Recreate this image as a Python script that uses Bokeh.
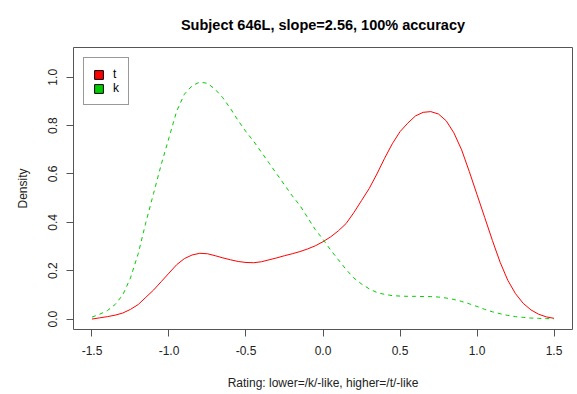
from bokeh.plotting import figure
from bokeh.models import FixedTicker, Legend, LegendItem, ColumnDataSource, Range1d
from bokeh.embed import file_html
from bokeh.resources import INLINE

# Rating grid (x) and density values
rating = [-1.50, -1.45, -1.40, -1.35, -1.30, -1.25, -1.20, -1.15, -1.10, -1.05,
          -1.00, -0.95, -0.90, -0.85, -0.80, -0.75, -0.70, -0.65, -0.60, -0.55,
          -0.50, -0.45, -0.40, -0.35, -0.30, -0.25, -0.20, -0.15, -0.10, -0.05,
          0.00, 0.05, 0.10, 0.15, 0.20, 0.25, 0.30, 0.35, 0.40, 0.45,
          0.50, 0.55, 0.60, 0.65, 0.70, 0.75, 0.80, 0.85, 0.90, 0.95,
          1.00, 1.05, 1.10, 1.15, 1.20, 1.25, 1.30, 1.35, 1.40, 1.45, 1.50]

density_t = [0.000, 0.005, 0.010, 0.016, 0.025, 0.040, 0.060, 0.090, 0.120, 0.155,
             0.190, 0.225, 0.250, 0.265, 0.272, 0.270, 0.262, 0.253, 0.245, 0.238,
             0.234, 0.233, 0.237, 0.245, 0.253, 0.262, 0.270, 0.279, 0.290, 0.303,
             0.320, 0.340, 0.365, 0.395, 0.440, 0.490, 0.540, 0.600, 0.665, 0.725,
             0.775, 0.810, 0.840, 0.855, 0.858, 0.848, 0.820, 0.770, 0.700, 0.610,
             0.515, 0.420, 0.325, 0.235, 0.160, 0.105, 0.065, 0.038, 0.020, 0.009, 0.003]

density_k = [0.008, 0.020, 0.035, 0.060, 0.100, 0.170, 0.270, 0.400, 0.520, 0.640,
             0.750, 0.860, 0.930, 0.965, 0.980, 0.975, 0.950, 0.915, 0.870, 0.820,
             0.775, 0.735, 0.690, 0.645, 0.600, 0.555, 0.510, 0.470, 0.420, 0.370,
             0.330, 0.285, 0.245, 0.205, 0.170, 0.145, 0.125, 0.110, 0.102, 0.097,
             0.095, 0.094, 0.094, 0.093, 0.093, 0.091, 0.087, 0.081, 0.073, 0.063,
             0.052, 0.040, 0.030, 0.022, 0.015, 0.010, 0.007, 0.004, 0.003, 0.002, 0.001]

x_ticks = [-1.5, -1.0, -0.5, 0.0, 0.5, 1.0, 1.5]
x_tick_labels = ["-1.5", "-1.0", "-0.5", "0.0", "0.5", "1.0", "1.5"]
y_ticks = [0.0, 0.2, 0.4, 0.6, 0.8, 1.0]
y_tick_labels = ["0.0", "0.2", "0.4", "0.6", "0.8", "1.0"]

series_names = ["t", "k"]
series_colors = ["#FF0000", "#00CD00"]
title_text = "Subject 646L, slope=2.56, 100% accuracy"

FONT = "Liberation Sans"

p = figure(width=577, height=394, output_backend="svg", toolbar_location=None,
           x_range=(-1.62, 1.62), y_range=(-0.0432, 1.1232),
           min_border_left=73, min_border_right=5, min_border_top=47,
           min_border_bottom=65, title=title_text)

p.title.align = "center"
p.title.vertical_align = "top"
p.title.standoff = 17
p.title.padding = 4
p.title.text_font = FONT
p.title.text_font_style = "bold"
p.title.text_font_size = "14.5px"
p.title.text_color = "#000000"

p.background_fill_color = "white"
p.border_fill_color = "white"
p.outline_line_color = "#555555"
p.outline_line_width = 1
p.xgrid.visible = False
p.ygrid.visible = False

src = ColumnDataSource(dict(x=rating, t=density_t, k=density_k))
p.line("x", "t", source=src, line_color=series_colors[0], line_width=1)
p.line("x", "k", source=src, line_color=series_colors[1], line_width=1,
       line_dash="4 4")

# legend swatches: filled squares drawn on a range that keeps them out of the frame
p.extra_y_ranges = {"swatch": Range1d(5, 6)}
r_t = p.quad(left="x", right="x", bottom="t", top="t", source=src,
             y_range_name="swatch", fill_color=series_colors[0], line_color="black")
r_k = p.quad(left="x", right="x", bottom="k", top="k", source=src,
             y_range_name="swatch", fill_color=series_colors[1], line_color="black")
legend = Legend(items=[LegendItem(label=series_names[0], renderers=[r_t]),
                       LegendItem(label=series_names[1], renderers=[r_k])],
                location="top_left", margin=10, padding=9, spacing=0,
                glyph_width=11, glyph_height=11, label_height=10, label_width=4,
                label_standoff=9, label_text_font=FONT,
                label_text_font_size="12px", label_text_color="#000000",
                border_line_color="#333333", border_line_width=1,
                background_fill_color="white", background_fill_alpha=1.0)
p.add_layout(legend)

for ax in (p.xaxis[0], p.yaxis[0]):
    ax.axis_line_color = None
    ax.major_tick_line_color = "#555555"
    ax.major_tick_out = 7
    ax.major_tick_in = 0
    ax.minor_tick_line_color = None
    ax.major_label_text_font = FONT
    ax.major_label_text_font_size = "12px"
    ax.major_label_text_color = "#222222"
    ax.axis_label_text_font = FONT
    ax.axis_label_text_font_size = "12px"
    ax.axis_label_text_font_style = "normal"
    ax.axis_label_text_color = "#222222"

p.xaxis[0].ticker = FixedTicker(ticks=x_ticks)
p.xaxis[0].major_label_overrides = {t: l for t, l in zip(x_ticks, x_tick_labels)}
p.xaxis[0].axis_label = "Rating: lower=/k/-like, higher=/t/-like"
p.xaxis[0].major_label_standoff = 9
p.xaxis[0].axis_label_standoff = 18

p.yaxis[0].ticker = FixedTicker(ticks=y_ticks)
p.yaxis[0].major_label_overrides = {t: l for t, l in zip(y_ticks, y_tick_labels)}
p.yaxis[0].major_label_orientation = "vertical"
p.yaxis[0].axis_label = "Density"
p.yaxis[0].major_label_standoff = 9
p.yaxis[0].axis_label_standoff = 16

open("out.html", "w").write(file_html(p, INLINE))
